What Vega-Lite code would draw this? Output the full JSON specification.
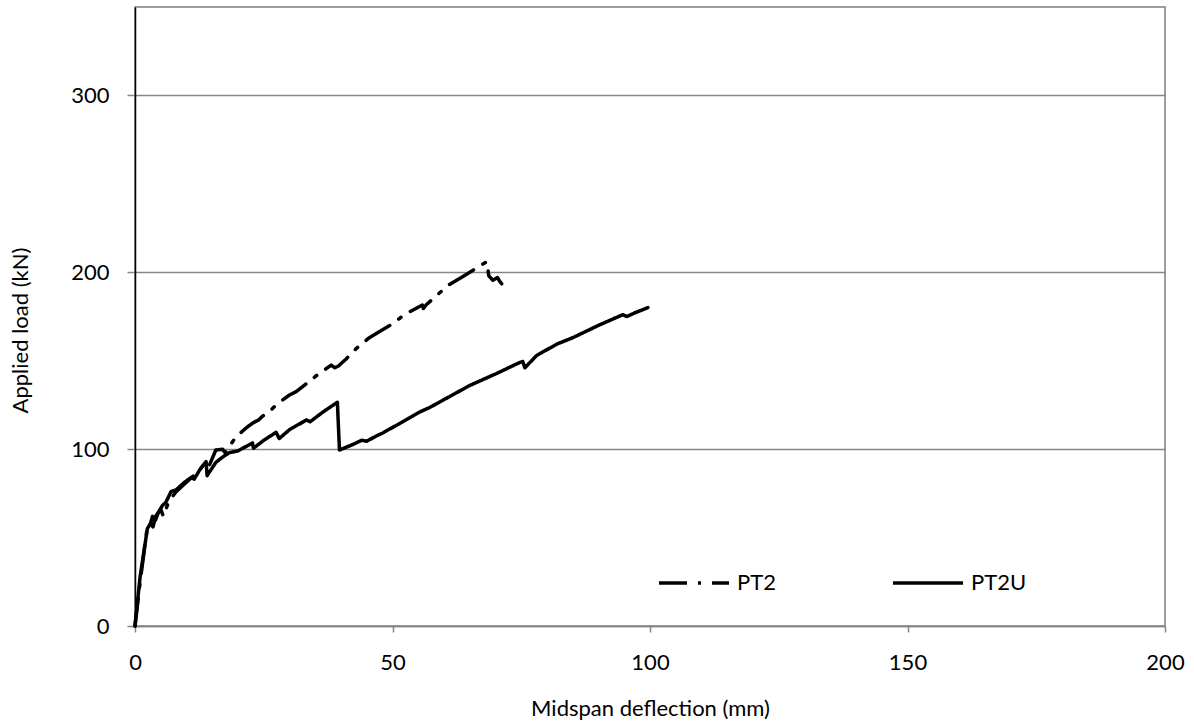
{
  "$schema": "https://vega.github.io/schema/vega-lite/v6.json",
  "width": 1030,
  "height": 619,
  "autosize": {"type": "none"},
  "padding": {"left": 135, "top": 7, "right": 29, "bottom": 102},
  "background": "white",
  "config": {
    "font": "Lato",
    "view": {"stroke": "#7f7f7f", "strokeWidth": 1.5},
    "axis": {"labelFont": "Lato", "titleFont": "Lato", "labelColor": "#000", "titleColor": "#000", "titleFontWeight": "normal"}
  },
  "data": {
    "values": [
      {"series": "PT2", "x": 0, "y": 0},
      {"series": "PT2", "x": 1, "y": 25},
      {"series": "PT2", "x": 2.3, "y": 54},
      {"series": "PT2", "x": 3, "y": 58},
      {"series": "PT2", "x": 3.5, "y": 56},
      {"series": "PT2", "x": 4, "y": 62},
      {"series": "PT2", "x": 5, "y": 66},
      {"series": "PT2", "x": 5.5, "y": 62},
      {"series": "PT2", "x": 6.5, "y": 70},
      {"series": "PT2", "x": 8, "y": 76},
      {"series": "PT2", "x": 9.5, "y": 80},
      {"series": "PT2", "x": 11, "y": 84},
      {"series": "PT2", "x": 12.5, "y": 88},
      {"series": "PT2", "x": 13.5, "y": 92},
      {"series": "PT2", "x": 14.3, "y": 90},
      {"series": "PT2", "x": 15.7, "y": 99.5},
      {"series": "PT2", "x": 17, "y": 100},
      {"series": "PT2", "x": 17.5, "y": 98},
      {"series": "PT2", "x": 19.6, "y": 107},
      {"series": "PT2", "x": 21.8, "y": 112.5},
      {"series": "PT2", "x": 23, "y": 115},
      {"series": "PT2", "x": 24, "y": 116.5},
      {"series": "PT2", "x": 24.7, "y": 118.5},
      {"series": "PT2", "x": 26, "y": 121},
      {"series": "PT2", "x": 27.6, "y": 125.5},
      {"series": "PT2", "x": 30, "y": 130.6},
      {"series": "PT2", "x": 31.3, "y": 132.5},
      {"series": "PT2", "x": 33.5, "y": 137.5},
      {"series": "PT2", "x": 35.4, "y": 142},
      {"series": "PT2", "x": 38.1, "y": 147.5},
      {"series": "PT2", "x": 38.8, "y": 146},
      {"series": "PT2", "x": 39.5, "y": 147},
      {"series": "PT2", "x": 41, "y": 151},
      {"series": "PT2", "x": 43, "y": 157},
      {"series": "PT2", "x": 45.5, "y": 163},
      {"series": "PT2", "x": 47.5, "y": 166.5},
      {"series": "PT2", "x": 49.8, "y": 170.5},
      {"series": "PT2", "x": 52.3, "y": 176},
      {"series": "PT2", "x": 55.8, "y": 181.5},
      {"series": "PT2", "x": 56, "y": 179.5},
      {"series": "PT2", "x": 56.5, "y": 181.5},
      {"series": "PT2", "x": 59, "y": 188},
      {"series": "PT2", "x": 61, "y": 193},
      {"series": "PT2", "x": 63.6, "y": 197.5},
      {"series": "PT2", "x": 68.3, "y": 206},
      {"series": "PT2", "x": 68.7, "y": 198},
      {"series": "PT2", "x": 69.5, "y": 195.5},
      {"series": "PT2", "x": 70.4, "y": 197},
      {"series": "PT2", "x": 70.8, "y": 195},
      {"series": "PT2", "x": 71.2, "y": 193.5},
      {"series": "PT2U", "x": 0, "y": 0},
      {"series": "PT2U", "x": 1, "y": 28},
      {"series": "PT2U", "x": 2.4, "y": 55},
      {"series": "PT2U", "x": 3, "y": 58},
      {"series": "PT2U", "x": 3.4, "y": 62},
      {"series": "PT2U", "x": 4, "y": 60},
      {"series": "PT2U", "x": 4.5, "y": 64},
      {"series": "PT2U", "x": 5.3, "y": 68},
      {"series": "PT2U", "x": 6, "y": 70},
      {"series": "PT2U", "x": 7, "y": 76},
      {"series": "PT2U", "x": 8, "y": 77},
      {"series": "PT2U", "x": 9.5, "y": 81},
      {"series": "PT2U", "x": 10.9, "y": 84},
      {"series": "PT2U", "x": 11.5, "y": 83},
      {"series": "PT2U", "x": 12.5, "y": 88},
      {"series": "PT2U", "x": 13.8, "y": 93},
      {"series": "PT2U", "x": 14, "y": 85},
      {"series": "PT2U", "x": 15.7, "y": 92.5},
      {"series": "PT2U", "x": 17, "y": 95.5},
      {"series": "PT2U", "x": 18.3, "y": 98},
      {"series": "PT2U", "x": 20, "y": 99},
      {"series": "PT2U", "x": 22.8, "y": 103.5},
      {"series": "PT2U", "x": 23, "y": 100.5},
      {"series": "PT2U", "x": 25, "y": 105},
      {"series": "PT2U", "x": 27.4, "y": 109.5},
      {"series": "PT2U", "x": 28, "y": 106},
      {"series": "PT2U", "x": 30, "y": 111},
      {"series": "PT2U", "x": 33.3, "y": 116.5},
      {"series": "PT2U", "x": 34, "y": 115.5},
      {"series": "PT2U", "x": 36.5, "y": 121},
      {"series": "PT2U", "x": 39.3, "y": 126.5},
      {"series": "PT2U", "x": 39.7, "y": 99.5},
      {"series": "PT2U", "x": 42.2, "y": 102.5},
      {"series": "PT2U", "x": 44, "y": 105},
      {"series": "PT2U", "x": 45, "y": 104.5},
      {"series": "PT2U", "x": 46.9, "y": 107.5},
      {"series": "PT2U", "x": 48, "y": 109},
      {"series": "PT2U", "x": 52, "y": 115.5},
      {"series": "PT2U", "x": 55.3, "y": 121},
      {"series": "PT2U", "x": 57.2, "y": 123.5},
      {"series": "PT2U", "x": 60, "y": 128},
      {"series": "PT2U", "x": 65, "y": 136},
      {"series": "PT2U", "x": 70, "y": 142.5},
      {"series": "PT2U", "x": 74.7, "y": 149},
      {"series": "PT2U", "x": 75.3, "y": 149.5},
      {"series": "PT2U", "x": 75.7, "y": 146},
      {"series": "PT2U", "x": 78, "y": 153},
      {"series": "PT2U", "x": 82, "y": 159.5},
      {"series": "PT2U", "x": 85, "y": 163},
      {"series": "PT2U", "x": 90, "y": 170},
      {"series": "PT2U", "x": 94.7, "y": 176},
      {"series": "PT2U", "x": 95.5, "y": 175},
      {"series": "PT2U", "x": 97, "y": 177},
      {"series": "PT2U", "x": 99.6, "y": 180}
    ]
  },
  "mark": {"type": "line", "color": "black", "strokeWidth": 3.5, "strokeCap": "round", "strokeJoin": "round"},
  "encoding": {
    "x": {
      "field": "x", "type": "quantitative",
      "scale": {"domain": [0, 200], "nice": false, "zero": true},
      "axis": {
        "values": [0, 50, 100, 150, 200],
        "grid": false,
        "domainColor": "#868686", "domainWidth": 1.5,
        "tickColor": "#868686", "tickSize": 6, "tickWidth": 1.5,
        "labelFontSize": 22, "labelPadding": 20,
        "labelFlush": false,
        "title": "Midspan deflection (mm)",
        "titleFontSize": 22,
        "titleX": 515, "titleY": 82, "titleAlign": "center", "titleBaseline": "middle"
      }
    },
    "y": {
      "field": "y", "type": "quantitative",
      "scale": {"domain": [0, 350], "nice": false},
      "axis": {
        "values": [0, 100, 200, 300],
        "grid": true, "gridColor": "#868686", "gridWidth": 1.5,
        "domainColor": "#000", "domainWidth": 1.5,
        "tickColor": "#868686", "tickSize": 8, "tickWidth": 1.5,
        "labelFontSize": 22, "labelPadding": 18,
        "labelFlush": false,
        "title": "Applied load (kN)",
        "titleFontSize": 22,
        "titleX": -115, "titleY": 323, "titleAlign": "center", "titleBaseline": "middle", "titleAngle": -90
      }
    },
    "detail": {"field": "series"},
    "strokeDash": {
      "field": "series", "type": "nominal",
      "scale": {"domain": ["PT2", "PT2U"], "range": [[28, 11, 3, 11], [1, 0]]},
      "legend": {
        "title": null,
        "orient": "none",
        "legendX": 522,
        "legendY": 539,
        "direction": "horizontal",
        "columns": 2,
        "columnPadding": 110,
        "symbolType": "stroke",
        "symbolSize": 4900,
        "symbolStrokeWidth": 3.5,
        "symbolStrokeColor": "black",
        "labelFontSize": 22,
        "labelFont": "Lato",
        "labelColor": "#000",
        "labelOffset": 6
      }
    }
  }
}
